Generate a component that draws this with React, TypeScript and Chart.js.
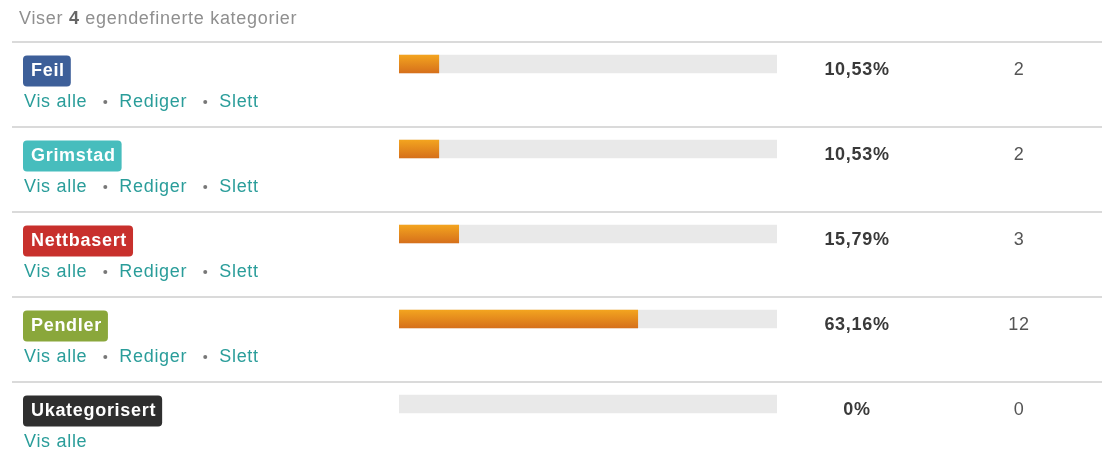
import React, { useEffect, useRef } from "react";
import { Chart, registerables } from "chart.js";

Chart.register(...registerables);

const categories = ["Feil", "Grimstad", "Nettbasert", "Pendler", "Ukategorisert"];
const badgeColors = ["#3d5f99", "#47bdbd", "#c8302c", "#8aa73b", "#2f2f2f"];
const percentages = [10.53, 10.53, 15.79, 63.16, 0];
const percentLabels = ["10,53%", "10,53%", "15,79%", "63,16%", "0%"];
const counts = [2, 2, 3, 12, 0];
const trackValues = [100, 100, 100, 100, 100];
const editable = [true, true, true, true, false];
const linkLabels = ["Vis alle", "Rediger", "Slett"];
const headerParts = ["Viser ", "4", " egendefinerte kategorier"];

const FONT = "'Liberation Sans', Arial, Helvetica, sans-serif";
const SP = "0.7px";

const tablePlugin = {
  id: "tablePlugin",
  beforeDatasetsDraw(chart: any) {
    const ctx = chart.ctx as CanvasRenderingContext2D;
    const y = chart.scales.y;
    const H = chart.height;
    const grad = ctx.createLinearGradient(0, 0, 0, H);
    categories.forEach((_, i) => {
      const c = y.getPixelForValue(i);
      grad.addColorStop(Math.max(0, Math.min(1, (c - 9) / H)), "#f3a41f");
      grad.addColorStop(Math.max(0, Math.min(1, (c + 9) / H)), "#d6701b");
    });
    const meta = chart.getDatasetMeta(1);
    meta.data.forEach((el: any) => {
      el.options.backgroundColor = grad;
    });
  },
  afterDraw(chart: any) {
    const ctx = chart.ctx as any;
    const y = chart.scales.y;
    ctx.save();
    ctx.letterSpacing = SP;
    ctx.textBaseline = "middle";
    // header
    let hx = 19;
    const hy = 19;
    ctx.textAlign = "left";
    headerParts.forEach((p, k) => {
      ctx.font = (k === 1 ? "bold " : "") + "18px " + FONT;
      ctx.fillStyle = k === 1 ? "#666" : "#8f8f8f";
      ctx.fillText(p, hx, hy);
      hx += ctx.measureText(p).width;
    });

    categories.forEach((cat, i) => {
      const c = y.getPixelForValue(i);
      const top = c - 22;
      // separator
      ctx.strokeStyle = "#dadada";
      ctx.lineWidth = 2;
      ctx.beginPath();
      ctx.moveTo(12, top);
      ctx.lineTo(chart.width, top);
      ctx.stroke();

      // badge
      ctx.font = "bold 18px " + FONT;
      const tw = ctx.measureText(cat).width;
      const bx = 23, by = top + 13.5, bw = tw + 14, bh = 31, r = 4;
      ctx.fillStyle = badgeColors[i];
      ctx.beginPath();
      ctx.moveTo(bx + r, by);
      ctx.lineTo(bx + bw - r, by);
      ctx.quadraticCurveTo(bx + bw, by, bx + bw, by + r);
      ctx.lineTo(bx + bw, by + bh - r);
      ctx.quadraticCurveTo(bx + bw, by + bh, bx + bw - r, by + bh);
      ctx.lineTo(bx + r, by + bh);
      ctx.quadraticCurveTo(bx, by + bh, bx, by + bh - r);
      ctx.lineTo(bx, by + r);
      ctx.quadraticCurveTo(bx, by, bx + r, by);
      ctx.closePath();
      ctx.fill();
      ctx.fillStyle = "#ffffff";
      ctx.textAlign = "left";
      ctx.fillText(cat, bx + 8, by + bh / 2 + 0.5);

      // links
      const ly = top + 60;
      let lx = 24;
      const links = editable[i] ? linkLabels : [linkLabels[0]];
      links.forEach((l, k) => {
        ctx.font = "18px " + FONT;
        ctx.fillStyle = "#2a9d9a";
        ctx.fillText(l, lx, ly);
        lx += ctx.measureText(l).width;
        if (k < links.length - 1) {
          lx += 18;
          ctx.fillStyle = "#777";
          ctx.beginPath();
          ctx.arc(lx, ly, 2, 0, Math.PI * 2);
          ctx.fill();
          lx += 14;
        }
      });

      // percent
      ctx.textAlign = "center";
      ctx.font = "bold 18px " + FONT;
      ctx.fillStyle = "#3a3a3a";
      ctx.fillText(percentLabels[i], 857, top + 28.5);
      // count
      ctx.font = "18px " + FONT;
      ctx.fillStyle = "#555";
      ctx.fillText(String(counts[i]), 1019, top + 28.5);
    });
    ctx.restore();
  },
};

export default function App() {
  const ref = useRef<HTMLCanvasElement>(null);
  useEffect(() => {
    if (!ref.current) return;
    const chart = new Chart(ref.current, {
      type: "bar",
      data: {
        labels: categories,
        datasets: [
          {
            label: "track",
            data: trackValues,
            backgroundColor: "#e9e9e9",
            barThickness: 18,
            grouped: false,
            order: 2,
          } as any,
          {
            label: "andel",
            data: percentages.map((v) => (v > 0 ? v : null)),
            backgroundColor: "#e88a1c",
            barThickness: 18,
            grouped: false,
            order: 1,
          } as any,
        ],
      },
      options: {
        indexAxis: "y",
        animation: false,
        responsive: false,
        devicePixelRatio: 1,
        layout: { padding: { left: 399, right: 325, top: 21.5, bottom: 16.5 } },
        scales: {
          x: { type: "linear", min: 0, max: 100, display: false },
          y: { type: "category", display: false, offset: true },
        },
        plugins: {
          legend: { display: false },
          tooltip: { enabled: false },
        },
      },
      plugins: [tablePlugin],
    });
    return () => chart.destroy();
  }, []);
  return (
    <div
      style={{
        position: "absolute",
        left: 0,
        top: 0,
        width: 1102,
        height: 463,
        overflow: "hidden",
        background: "#fff",
      }}
    >
      <canvas ref={ref} width={1102} height={463} style={{ display: "block" }} />
    </div>
  );
}
